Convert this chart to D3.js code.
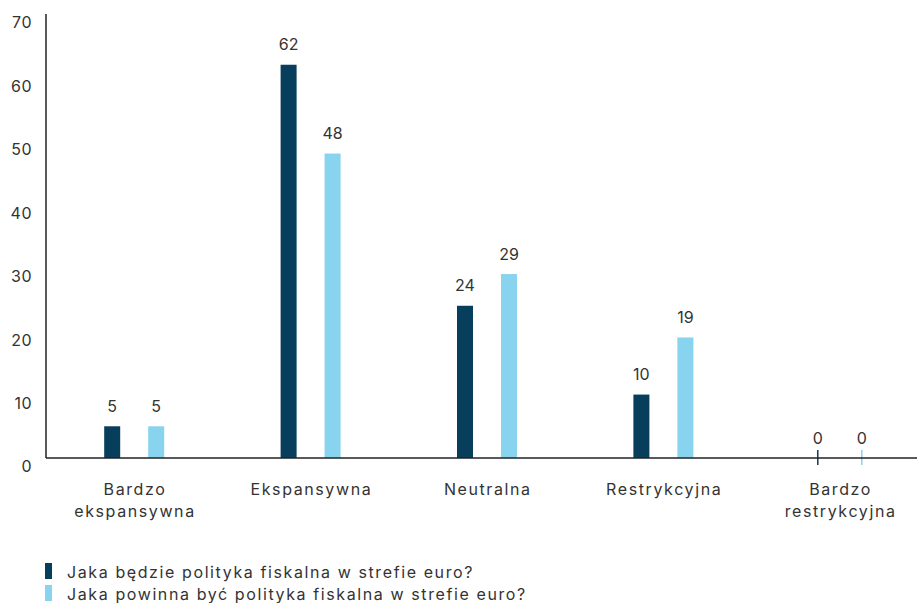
<!DOCTYPE html>
<html><head><meta charset="utf-8">
<script src="https://cdn.jsdelivr.net/npm/d3@7"></script>
<style>body{margin:0;background:#fff}svg{display:block;font-family:Inter,"Open Sans",sans-serif}</style>
</head><body><svg id="c" width="917" height="603"></svg>
<script>
const categories = [["Bardzo","ekspansywna"],["Ekspansywna"],["Neutralna"],["Restrykcyjna"],["Bardzo","restrykcyjna"]];
const seriesNames = ["Jaka będzie polityka fiskalna w strefie euro?","Jaka powinna być polityka fiskalna w strefie euro?"];
const seriesA = [5,62,24,10,0];
const seriesB = [5,48,29,19,0];
const yTicks = [0,10,20,30,40,50,60,70];
const colors = ["#063e5b","#88d3ee"];

const svg = d3.select("#c");
const x = d3.scaleBand().domain(d3.range(categories.length)).range([46,928]).padding(0);
const y = d3.scaleLinear().domain([0,70]).range([458,14]);
const off = [-22, 22], bw = 16;
const txt = "#333";
const fs = 16, ls = 1.6;

// y labels
svg.append("g").selectAll("text").data(yTicks).join("text")
  .attr("x",32).attr("y",d=>y(d)+10).attr("text-anchor","end")
  .attr("dominant-baseline","middle").attr("font-size",fs).attr("fill",txt).attr("letter-spacing",0.5).text(d=>d);

const series=[seriesA,seriesB];
series.forEach((s,si)=>{
  const g=svg.append("g");
  s.forEach((v,i)=>{
    const cx=x(i)+x.bandwidth()/2+off[si];
    if(v>0){
      g.append("rect").attr("x",cx-bw/2).attr("y",y(v)).attr("width",bw).attr("height",y(0)-y(v)).attr("fill",colors[si]);
    } else {
      g.append("line").attr("x1",cx).attr("x2",cx).attr("y1",y(0)-8).attr("y2",y(0)+7).attr("stroke",colors[si]).attr("stroke-width",1.5);
    }
    g.append("text").attr("x",cx).attr("y",y(v)-14.5).attr("text-anchor","middle")
      .attr("font-size",fs).attr("fill",txt).text(v);
  });
});

// axes lines
svg.append("line").attr("x1",46).attr("x2",46).attr("y1",14).attr("y2",y(0)).attr("stroke","#222").attr("stroke-width",1.5);
svg.append("line").attr("x1",46).attr("x2",917).attr("y1",y(0)).attr("y2",y(0)).attr("stroke","#222").attr("stroke-width",1.5);

// x labels
const xl=svg.append("g");
categories.forEach((c,i)=>{
  const t=xl.append("text").attr("text-anchor","middle").attr("font-size",fs).attr("fill",txt).attr("letter-spacing",ls);
  c.forEach((line,k)=>t.append("tspan").attr("x",x(i)+x.bandwidth()/2+ls/2).attr("y",495+k*21.5).text(line));
});

// legend
const lg=svg.append("g");
seriesNames.forEach((n,i)=>{
  lg.append("rect").attr("x",45).attr("y",563+i*22).attr("width",7).attr("height",16).attr("fill",colors[i]);
  lg.append("text").attr("x",67).attr("y",578+i*22).attr("font-size",fs).attr("fill",txt).attr("letter-spacing",ls).text(n);
});
</script></body></html>
